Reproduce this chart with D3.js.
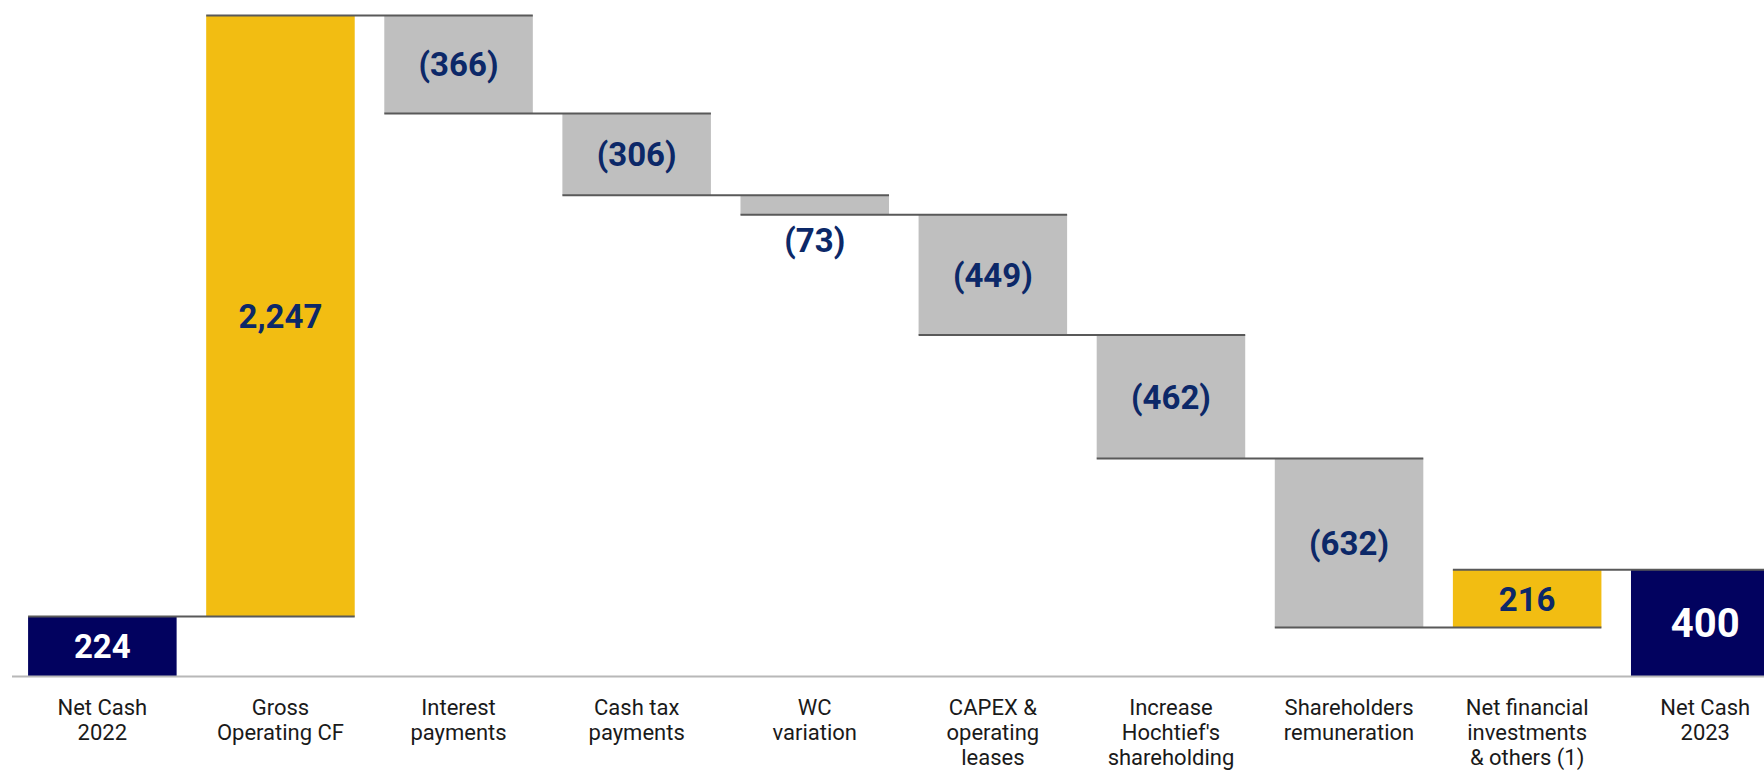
<!DOCTYPE html>
<html>
<head>
<meta charset="utf-8">
<script src="https://cdn.jsdelivr.net/npm/d3@7"></script>
<style>
  html, body { margin: 0; padding: 0; background: #ffffff; overflow: hidden; }
  svg { display: block; font-family: Roboto, "Noto Sans", sans-serif; }
</style>
</head>
<body>
<svg id="chart" width="1764" height="775"></svg>
<script>
// ---- data ----
const categories = [
  "Net Cash 2022", "Gross Operating CF", "Interest payments", "Cash tax payments",
  "WC variation", "CAPEX & operating leases", "Increase Hochtief's shareholding",
  "Shareholders remuneration", "Net financial investments & others (1)", "Net Cash 2023"
];
const categoryLines = [
  ["Net Cash", "2022"], ["Gross", "Operating CF"], ["Interest", "payments"],
  ["Cash tax", "payments"], ["WC", "variation"], ["CAPEX &", "operating", "leases"],
  ["Increase", "Hochtief's", "shareholding"], ["Shareholders", "remuneration"],
  ["Net financial", "investments", "& others (1)"], ["Net Cash", "2023"]
];
const values = [224, 2247, -366, -306, -73, -449, -462, -632, 216, 400];
const kinds = ["total", "delta", "delta", "delta", "delta", "delta", "delta", "delta", "delta", "total"];
const valueLabels = ["224", "2,247", "(366)", "(306)", "(73)", "(449)", "(462)", "(632)", "216", "400"];

// ---- build waterfall ----
let running = 0;
const bars = values.map((v, i) => {
  let start, end;
  if (kinds[i] === "total") { start = 0; end = v; running = v; }
  else { start = running; end = running + v; running = end; }
  return { cat: categories[i], i, v, kind: kinds[i], lo: Math.min(start, end), hi: Math.max(start, end), level: end, label: valueLabels[i] };
});

const svg = d3.select("#chart");
const maxY = d3.max(bars, d => d.hi);

const x = d3.scaleBand().domain(categories).range([13.3, 1794.3]).paddingInner(0.166).paddingOuter(0.083);
const y = d3.scaleLinear().domain([0, maxY]).range([676.5, 15.5]);

const colorFor = d => d.kind === "total" ? "#02025f" : (d.v >= 0 ? "#f2bd12" : "#bfbfbf");

// bars
svg.append("g").selectAll("rect").data(bars).join("rect")
  .attr("x", d => x(d.cat))
  .attr("width", x.bandwidth())
  .attr("y", d => y(d.hi))
  .attr("height", d => y(d.lo) - y(d.hi))
  .attr("fill", colorFor);

// connectors
const conns = bars.slice(0, -1).map((d, i) => ({ x0: x(d.cat), x1: x(bars[i + 1].cat) + x.bandwidth(), lvl: d.level }));
svg.append("g").selectAll("line").data(conns).join("line")
  .attr("x1", d => d.x0).attr("x2", d => d.x1)
  .attr("y1", d => y(d.lvl)).attr("y2", d => y(d.lvl))
  .attr("stroke", "#595959").attr("stroke-width", 2);

// axis
const axis = svg.append("g").attr("transform", `translate(0,${y(0)})`)
  .call(d3.axisBottom(x).tickSize(0).tickPadding(0).tickFormat(""));
axis.select(".domain").attr("stroke", "#b8b8b8").attr("stroke-width", 2).attr("d", `M12,0H1764`);
axis.selectAll(".tick text").each(function(d) {
  const t = d3.select(this);
  const lines = categoryLines[categories.indexOf(d)];
  t.text(null).attr("y", 0).attr("dy", null)
    .attr("font-size", 22).attr("fill", "#1a1a1a")
    .attr("font-family", "Roboto, sans-serif");
  lines.forEach((ln, k) => {
    t.append("tspan").attr("x", 0).attr("y", 38.5 + k * 24.8).text(ln);
  });
});

// value labels
svg.append("g").selectAll("text").data(bars).join("text")
  .attr("x", d => x(d.cat) + x.bandwidth() / 2)
  .attr("y", d => {
    const h = y(d.lo) - y(d.hi);
    if (h < 40) return y(d.lo) + 25;
    return (y(d.lo) + y(d.hi)) / 2;
  })
  .attr("dy", "0.36em")
  .attr("text-anchor", "middle")
  .attr("font-weight", 700)
  .attr("font-size", d => d.i === bars.length - 1 ? 40 : 33)
  .attr("fill", d => d.kind === "total" ? "#ffffff" : "#0c2868")
  .text(d => d.label);
</script>
</body>
</html>
